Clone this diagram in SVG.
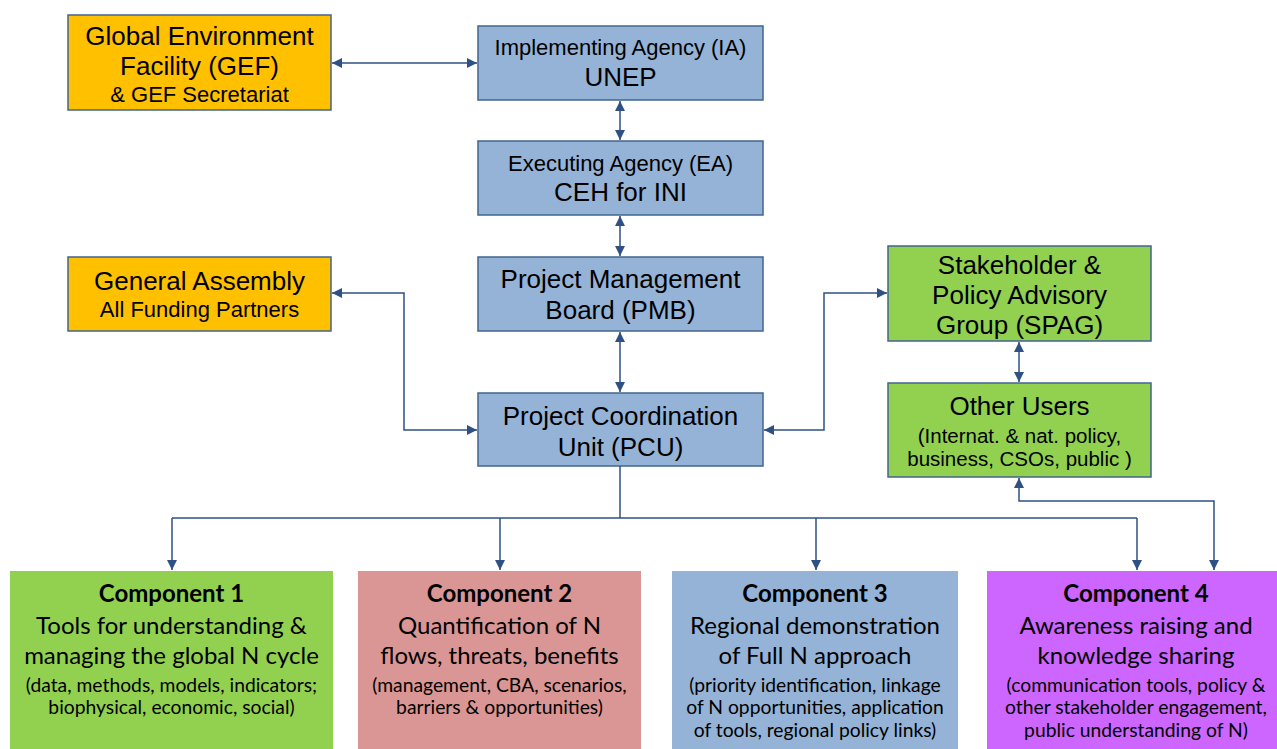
<svg xmlns="http://www.w3.org/2000/svg" width="1277" height="749" viewBox="0 0 1277 749">
<defs>
<marker id="ah" viewBox="0 0 10 10" refX="10" refY="5" markerWidth="10" markerHeight="10" markerUnits="userSpaceOnUse" orient="auto-start-reverse">
<path d="M0,0 L10,5 L0,10 z" fill="#2F5083"/>
</marker>
<style>
.box{stroke:#41668F;stroke-width:1.5}
.or{fill:#FFC000}
.bl{fill:#95B3D7}
.gr{fill:#92D050}
.t{font-family:"Liberation Sans",Arial,sans-serif;fill:#000;text-anchor:middle}
.L{font-size:26px}
.M{font-size:22px}
.S{font-size:20.5px}
.c{font-family:Lato,"Open Sans",sans-serif;fill:#000;text-anchor:middle}
.cb{font-weight:bold;font-size:24px}
.cm{font-size:24px}
.cs{font-size:19.3px}
.con{fill:none;stroke:#2F5083;stroke-width:1.5}
</style>
</defs>
<rect width="1277" height="749" fill="#fff"/>
<g id="gef">
<rect class="box or" x="68" y="15" width="263" height="95"/>
<text class="t L" x="199.5" y="45">Global Environment</text>
<text class="t L" x="199.5" y="75">Facility (GEF)</text>
<text class="t M" x="199.5" y="102">&amp; GEF Secretariat</text>
</g>
<g id="ia">
<rect class="box bl" x="478" y="26" width="285" height="74"/>
<text class="t M" x="620.5" y="55">Implementing Agency (IA)</text>
<text class="t L" x="620.5" y="86">UNEP</text>
</g>
<g id="ea">
<rect class="box bl" x="478" y="141" width="285" height="74"/>
<text class="t M" x="620.5" y="171">Executing Agency (EA)</text>
<text class="t L" x="620.5" y="201">CEH for INI</text>
</g>
<g id="pmb">
<rect class="box bl" x="478" y="257" width="285" height="74"/>
<text class="t L" x="620.5" y="288">Project Management</text>
<text class="t L" x="620.5" y="319">Board (PMB)</text>
</g>
<g id="pcu">
<rect class="box bl" x="478" y="393" width="285" height="73"/>
<text class="t L" x="620.5" y="425">Project Coordination</text>
<text class="t L" x="620.5" y="456">Unit (PCU)</text>
</g>
<g id="ga">
<rect class="box or" x="68" y="257" width="263" height="74"/>
<text class="t L" x="199.5" y="290">General Assembly</text>
<text class="t M" x="199.5" y="317">All Funding Partners</text>
</g>
<g id="spag">
<rect class="box gr" x="888" y="246" width="263" height="95"/>
<text class="t L" x="1019.5" y="274">Stakeholder &amp;</text>
<text class="t L" x="1019.5" y="304">Policy Advisory</text>
<text class="t L" x="1019.5" y="334">Group (SPAG)</text>
</g>
<g id="users">
<rect class="box gr" x="888" y="383" width="263" height="94"/>
<text class="t L" x="1019.5" y="415">Other Users</text>
<text class="t S" x="1019.5" y="443">(Internat. &amp; nat. policy,</text>
<text class="t S" x="1019.5" y="466">business, CSOs, public )</text>
</g>
<g id="comp1">
<rect x="10" y="571" width="323" height="178" fill="#92D050"/>
<text class="c cb" x="171.5" y="602">Component 1</text>
<text class="c cm" x="171.5" y="634">Tools for understanding &amp;</text>
<text class="c cm" x="171.5" y="664">managing the global N cycle</text>
<text class="c cs" x="171.5" y="692">(data, methods, models, indicators;</text>
<text class="c cs" x="171.5" y="714">biophysical, economic, social)</text>
</g>
<g id="comp2">
<rect x="358" y="571" width="283" height="178" fill="#DA9694"/>
<text class="c cb" x="499.5" y="602">Component 2</text>
<text class="c cm" x="499.5" y="634">Quantification of N</text>
<text class="c cm" x="499.5" y="664">flows, threats, benefits</text>
<text class="c cs" x="499.5" y="692">(management, CBA, scenarios,</text>
<text class="c cs" x="499.5" y="714">barriers &amp; opportunities)</text>
</g>
<g id="comp3">
<rect x="672" y="571" width="286" height="178" fill="#95B3D7"/>
<text class="c cb" x="815" y="602">Component 3</text>
<text class="c cm" x="815" y="634">Regional demonstration</text>
<text class="c cm" x="815" y="664">of Full N approach</text>
<text class="c cs" x="815" y="692">(priority identification, linkage</text>
<text class="c cs" x="815" y="714">of N opportunities, application</text>
<text class="c cs" x="815" y="737">of tools, regional policy links)</text>
</g>
<g id="comp4">
<rect x="987" y="571" width="290" height="178" fill="#CC66FF"/>
<text class="c cb" x="1136" y="602">Component 4</text>
<text class="c cm" x="1136" y="634">Awareness raising and</text>
<text class="c cm" x="1136" y="664">knowledge sharing</text>
<text class="c cs" x="1136" y="692">(communication tools, policy &amp;</text>
<text class="c cs" x="1136" y="714">other stakeholder engagement,</text>
<text class="c cs" x="1136" y="737">public understanding of N)</text>
</g>
<g id="connectors">
<line class="con" x1="332" y1="63" x2="477" y2="63" marker-start="url(#ah)" marker-end="url(#ah)"/>
<line class="con" x1="620" y1="101" x2="620" y2="140" marker-start="url(#ah)" marker-end="url(#ah)"/>
<line class="con" x1="620" y1="216" x2="620" y2="256" marker-start="url(#ah)" marker-end="url(#ah)"/>
<line class="con" x1="620" y1="332" x2="620" y2="392" marker-start="url(#ah)" marker-end="url(#ah)"/>
<path class="con" d="M332,293 H404 V430 H477" marker-start="url(#ah)" marker-end="url(#ah)"/>
<path class="con" d="M764,430 H824 V293 H887" marker-start="url(#ah)" marker-end="url(#ah)"/>
<line class="con" x1="1019" y1="342" x2="1019" y2="382" marker-start="url(#ah)" marker-end="url(#ah)"/>
<path class="con" d="M620,466 V518"/>
<path class="con" d="M172,518 H1137"/>
<line class="con" x1="172" y1="518" x2="172" y2="570" marker-end="url(#ah)"/>
<line class="con" x1="500" y1="518" x2="500" y2="570" marker-end="url(#ah)"/>
<line class="con" x1="816" y1="518" x2="816" y2="570" marker-end="url(#ah)"/>
<line class="con" x1="1137" y1="518" x2="1137" y2="570" marker-end="url(#ah)"/>
<path class="con" d="M1019,478 V501 H1214 V570" marker-start="url(#ah)" marker-end="url(#ah)"/>
</g>
</svg>
